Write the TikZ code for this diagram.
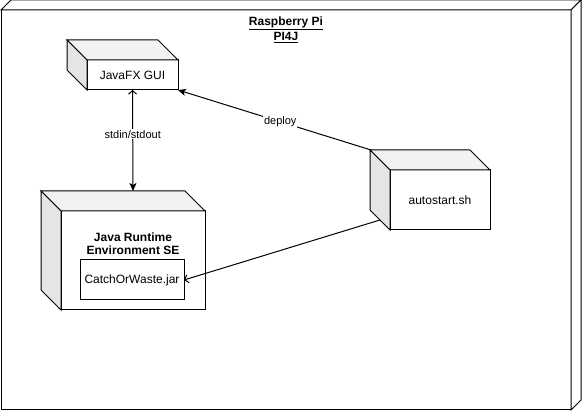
\documentclass[tikz,border=0pt]{standalone}
\usepackage{fontspec}
\setmainfont{Liberation Sans}
\usetikzlibrary{positioning,arrows.meta}
\tikzset{%
  box/.style       = {shape=rectangle, draw, fill=white, outer sep=0pt,%
                      align=center, inner sep=2pt},%
  topface/.style   = {draw, fill=black!5},%
  sideface/.style  = {draw, fill=black!10},%
  edgelabel/.style = {fill=white, inner sep=1pt,%
                      font=\fontsize{11}{13}\selectfont},%
  openhead/.tip    = {Straight Barb[length=3.5pt,width=8pt]},%
  blockhead/.tip   = {Stealth[length=8pt,width=7pt,inset=2pt]}%
}
% faces of a box, drawn up and to the left of its front
\newcommand{\boxfaces}[2]{%
  \filldraw[topface] (#1.north west) -- ++(-#2,#2) -- ([shift={(-#2,#2)}]#1.north east) -- (#1.north east) -- cycle;
  \filldraw[sideface] (#1.north west) -- ++(-#2,#2) -- ([shift={(-#2,#2)}]#1.south west) -- (#1.south west) -- cycle;
}
\begin{document}
\begin{tikzpicture}[x=1pt,y=1pt,line width=1pt,
	every node/.style = {font=\fontsize{12}{14}\selectfont}]
	\useasboundingbox (0,0) rectangle (582,411);
		% the device
		\node [box, minimum width=570pt, minimum height=400pt] (pi) at (286,201) {};
		\filldraw[fill=white] (pi.north west) -- ++(10,10) -- ([shift={(10pt,10pt)}]pi.north east) -- (pi.north east) -- cycle;
		\filldraw[fill=white] (pi.north east) -- ++(10,10) -- ([shift={(10pt,10pt)}]pi.south east) -- (pi.south east) -- cycle;
		\node [align=center, font=\bfseries\fontsize{12}{15}\selectfont, below=3pt of pi.north] (pititle)
			{\underline{Raspberry Pi}\\\underline{PI4J}};
		% nodes
		\node [box, minimum width=91pt, minimum height=30pt] (gui) at (132.5,336) {JavaFX GUI};
		\boxfaces{gui}{20}
		\node [box, minimum width=144pt, minimum height=99pt] (jre) at (133,150.5) {};
		\boxfaces{jre}{20}
		\node [align=center, font=\bfseries\fontsize{12}{13}\selectfont] (jrelabel) at (133,167.5)
			{Java Runtime\\Environment SE};
		\node [box, minimum width=104pt, minimum height=40pt] (jar) at (132,131) {CatchOrWaste.jar};
		\node [box, minimum width=100pt, minimum height=60pt] (auto) at (440,211) {autostart.sh};
		\boxfaces{auto}{20}
		% connectors
		\coordinate (jretop) at ([yshift=20pt]jre.north);
		\coordinate (autoback) at ([shift={(-19pt,20pt)}]auto.north west);
		\coordinate (autoside) at ([shift={(-10pt,10pt)}]auto.south west);
		\draw [openhead-blockhead] (gui.south) -- node [edgelabel, pos=0.44] {stdin/stdout} (jretop);
		\draw [-blockhead] (autoback) -- node [edgelabel, pos=0.47] {deploy} (gui.south east);
		\draw [-openhead] (autoside) -- (jar.east);
	\end{tikzpicture}
\end{document}
